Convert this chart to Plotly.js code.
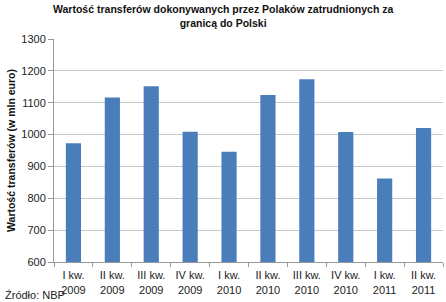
<!DOCTYPE html>
<html>
<head>
<meta charset="utf-8">
<script src="https://cdn.plot.ly/plotly-3.0.1.min.js"></script>
<style>html,body{margin:0;padding:0;background:#fff;}#chart{width:446px;height:302px;}</style>
</head>
<body>
<div id="chart"></div>
<script>
var categories = ["I kw.<br>2009","II kw.<br>2009","III kw.<br>2009","IV kw.<br>2009","I kw.<br>2010","II kw.<br>2010","III kw.<br>2010","IV kw.<br>2010","I kw.<br>2011","II kw.<br>2011"];
var values = [973, 1116, 1152, 1009, 946, 1124, 1174, 1008, 862, 1021];
var yTicks = [600, 700, 800, 900, 1000, 1100, 1200, 1300];

var font = "Liberation Sans, Arial, sans-serif";
var data = [{
  type: "bar",
  x: categories,
  y: values,
  marker: {color: "#4a7ebb"},
  hoverinfo: "none"
}];
var layout = {
  width: 446, height: 302,
  margin: {l: 54, r: 3, t: 39, b: 40},
  paper_bgcolor: "#fff", plot_bgcolor: "#fff",
  bargap: 0.61,
  showlegend: false,
  font: {family: font, size: 11, color: "#222"},
  xaxis: {
    type: "category",
    showline: true, linecolor: "#999", linewidth: 1,
    ticks: "outside", tickson: "boundaries", ticklen: 4, tickcolor: "#999",
    showgrid: false,
    ticklabelstandoff: 3,
    tickfont: {family: font, size: 11, color: "#222"}
  },
  yaxis: {
    range: [600, 1300],
    tickvals: yTicks,
    showline: true, linecolor: "#999", linewidth: 1,
    ticks: "outside", ticklen: 5, tickcolor: "#999",
    showgrid: true, gridcolor: "#c8c8c8", gridwidth: 1,
    zeroline: false,
    tickfont: {family: font, size: 11, color: "#222"},
    title: {text: "<b>Wartość transferów (w mln euro)</b>", font: {family: font, size: 10.5, color: "#111"}, standoff: 3}
  },
  annotations: [{
    text: "<b>Wartość transferów dokonywanych przez Polaków zatrudnionych za<br>granicą do Polski</b>",
    xref: "paper", yref: "paper",
    x: (223 - 54) / 389, y: 1 + 38 / 223, xanchor: "center", yanchor: "top",
    showarrow: false, align: "center",
    font: {family: font, size: 10.5, color: "#111"}
  }, {
    text: "Źródło: NBP", xref: "paper", yref: "paper",
    x: -54/389, y: -40/223, xanchor: "left", yanchor: "bottom",
    xshift: 3, yshift: -1,
    showarrow: false, font: {family: font, size: 11, color: "#222"}
  }]
};
Plotly.newPlot("chart", data, layout, {displayModeBar: false, staticPlot: true});
</script>
</body>
</html>
